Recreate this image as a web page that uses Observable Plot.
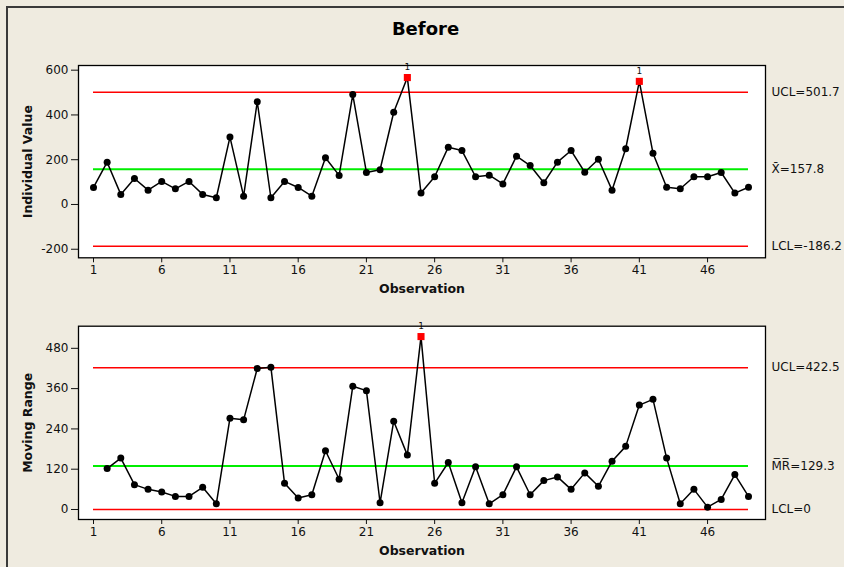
<!DOCTYPE html>
<html>
<head>
<meta charset="utf-8">
<script src="https://cdn.jsdelivr.net/npm/d3@7"></script>
<script src="https://cdn.jsdelivr.net/npm/@observablehq/plot@0.6"></script>
<style>
  html, body { margin: 0; padding: 0; background: #EFEBE0; }
  #wrap { position: relative; width: 844px; height: 567px; overflow: hidden; background: #EFEBE0; font-family: "DejaVu Sans", sans-serif; }
  #border { position: absolute; left: 6px; top: 6px; width: 900px; height: 600px; border-left: 2px solid #3a3a3a; border-top: 2px solid #3a3a3a; }
  #title { position: absolute; left: 7px; width: 837px; top: 18px; text-align: center; font: bold 18px "DejaVu Sans", sans-serif; color: #000; }
  .panel { position: absolute; left: 0; }
</style>
</head>
<body>
<div id="wrap">
  <div id="border"></div>
  <div id="title">Before</div>
  <div id="p1" class="panel" style="top:45px"></div>
  <div id="p2" class="panel" style="top:300px"></div>
</div>
<script>
// ---- data ----
const observations = d3.range(1, 50);
const individualValues = [76,189,45,116,64,103,70,103,45,30,301,37,459,30,103,76,37,209,130,491,143,155,412,567,51,124,256,241,124,131,92,216,174,97,189,241,144,202,64,249,550,229,77,70,124,124,143,51,77];
const movingRangeObs = d3.range(2, 50);
const movingRanges = [122,153,74,60,52,39,39,66,17,272,267,420,424,78,34,44,175,90,367,354,20,263,162,515,78,140,20,127,17,44,127,44,86,97,60,109,69,144,188,311,328,153,17,60,7,30,104,39];
const individualFlagged = [24, 41];
const movingRangeFlagged = [25];
const individualLimits = [
  {value: 501.7, label: "UCL=501.7", kind: "limit"},
  {value: 157.8, label: "X\u0304=157.8", kind: "center"},
  {value: -186.2, label: "LCL=-186.2", kind: "limit"}
];
const movingRangeLimits = [
  {value: 422.5, label: "UCL=422.5", kind: "limit"},
  {value: 129.3, label: "M\u0305R\u0305=129.3", kind: "center"},
  {value: 0, label: "LCL=0", kind: "limit"}
];
const xTicks = [1, 6, 11, 16, 21, 26, 31, 36, 41, 46];
const individualTicks = [-200, 0, 200, 400, 600];
const movingRangeTicks = [0, 120, 240, 360, 480];

function chart({obs, values, flagged, limits, yDomain, yTicks, yLabel, height, marginTop, marginBottom}) {
  const data = obs.map((o, i) => ({obs: o, value: values[i], flag: flagged.includes(o)}));
  return Plot.plot({
    width: 844,
    height,
    marginLeft: 78,
    marginRight: 79,
    marginTop,
    marginBottom,
    style: {fontFamily: "DejaVu Sans, sans-serif", fontSize: "12px", background: "transparent", color: "#111"},
    x: {domain: [1, 49], insetLeft: 15, insetRight: 17, ticks: xTicks, tickFormat: d => String(d), tickSize: 5, tickPadding: 3, label: null},
    y: {domain: yDomain, ticks: yTicks, tickFormat: d => String(d), tickSize: 7, tickPadding: 3, label: null},
    marks: [
      Plot.frame({fill: "white", stroke: null}),
      Plot.ruleY(limits.filter(d => d.kind === "limit"), {y: "value", x1: () => 1, x2: () => 49, stroke: "#ff0000", strokeWidth: 1.5}),
      Plot.ruleY(limits.filter(d => d.kind === "center"), {y: "value", x1: () => 1, x2: () => 49, stroke: "#00ee00", strokeWidth: 2}),
      Plot.line(data, {x: "obs", y: "value", stroke: "black", strokeWidth: 1.5}),
      Plot.dot(data, {filter: d => !d.flag, x: "obs", y: "value", r: 3.5, fill: "black", stroke: null}),
      Plot.dot(data, {filter: d => d.flag, x: "obs", y: "value", r: 4, symbol: "square", fill: "#ff0000", stroke: null}),
      Plot.text(data, {filter: d => d.flag, x: "obs", y: "value", text: () => "1", dy: -10, fontSize: 9}),
      Plot.text(limits, {x: () => 49, y: "value", text: "label", dx: 23, textAnchor: "start", fontSize: 12}),
      Plot.text(["Observation"], {frameAnchor: "bottom", dy: 31, lineAnchor: "middle", textAnchor: "middle", fontWeight: "bold", fontSize: 12.5}),
      Plot.text([yLabel], {frameAnchor: "left", dx: -51, rotate: -90, lineAnchor: "middle", textAnchor: "middle", fontWeight: "bold", fontSize: 12.5}),
      Plot.frame({stroke: "black", strokeWidth: 1.3})
    ]
  });
}

document.getElementById("p1").append(chart({
  obs: observations, values: individualValues, flagged: individualFlagged, limits: individualLimits,
  yDomain: [-238.2, 620.9], yTicks: individualTicks, yLabel: "Individual Value",
  height: 255, marginTop: 20, marginBottom: 42.7
}));
document.getElementById("p2").append(chart({
  obs: movingRangeObs, values: movingRanges, flagged: movingRangeFlagged, limits: movingRangeLimits,
  yDomain: [-29.8, 545.9], yTicks: movingRangeTicks, yLabel: "Moving Range",
  height: 267, marginTop: 25.7, marginBottom: 48
}));
</script>
</body>
</html>
